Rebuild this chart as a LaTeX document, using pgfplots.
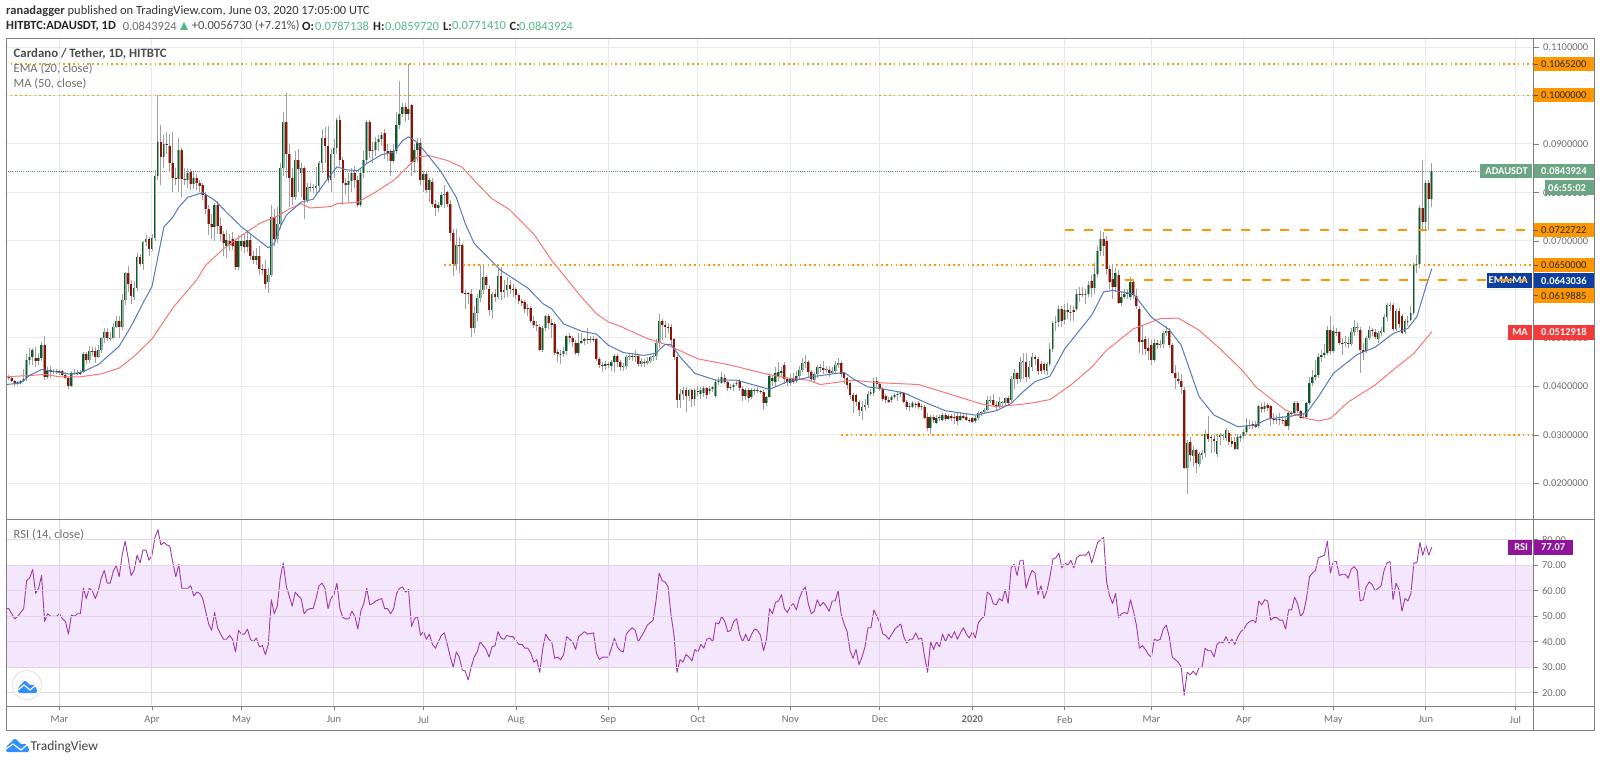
\documentclass[border=0pt]{standalone}
\usepackage{fontspec}
\usepackage{pgfplots}
\usepackage{pgfplotstable}
\pgfplotsset{compat=1.18}
\setmainfont{Carlito}
\definecolor{lvl}{HTML}{FF9800}
\definecolor{gridc}{HTML}{E9E9E9}
\definecolor{txt}{HTML}{6E6E6E}
\definecolor{frm}{HTML}{7F7F7F}
\definecolor{upd}{HTML}{0E5A2A}
\definecolor{upl}{HTML}{8FB09D}
\definecolor{dnd}{HTML}{8F1408}
\definecolor{dnl}{HTML}{BFA09A}
\definecolor{wick}{HTML}{A0A0A0}
\definecolor{tagg}{HTML}{6BA583}
\definecolor{tagb}{HTML}{0D3F9F}
\definecolor{tagr}{HTML}{F23A3A}
\definecolor{tagp}{HTML}{8E1599}
\definecolor{band}{HTML}{F4E7FD}
\definecolor{teal}{HTML}{53B987}
\newcommand{\tv}{\fontsize{12.5}{14}\selectfont}
\newcommand{\tk}{\fontsize{10.5}{12}\selectfont}
% day number (0 = 1 Mar 2019), open high low close in 1/10000 USDT
\pgfplotstableread{
d o h l c
-18 429 430 416 417
-17 419 423 413 417
-16 417 419 409 411
-15 412 413 402 405
-14 407 412 404 409
-13 408 414 406 412
-12 411 437 409 416
-11 418 466 412 455
-10 455 479 445 461
-9 461 480 445 476
-8 459 481 440 452
-7 452 470 445 459
-6 459 491 452 486
-5 486 505 414 420
-4 420 441 415 435
-3 435 443 418 430
-2 430 436 425 431
-1 431 437 426 430
0 430 435 424 431
1 431 434 419 424
2 424 430 415 418
3 418 420 394 402
4 402 432 398 428
5 428 436 424 427
6 427 433 423 426
7 426 434 424 429
8 429 472 427 468
9 468 472 447 454
10 454 484 448 474
11 474 481 462 473
12 473 482 449 461
13 461 485 458 476
14 476 503 470 500
15 500 520 490 512
16 512 520 494 500
17 500 512 493 501
18 501 530 498 522
19 522 545 520 534
20 534 546 500 522
21 522 590 516 579
22 579 636 568 633
23 633 648 595 611
24 611 620 570 587
25 584 618 578 604
26 604 675 596 668
27 668 674 648 652
28 652 700 640 697
29 697 712 690 704
30 704 708 670 684
31 684 715 680 706
32 706 846 700 835
33 835 1002 825 905
34 905 940 815 873
35 873 918 850 900
36 900 925 880 898
37 896 920 845 860
38 860 925 800 829
39 829 850 815 827
40 827 912 800 887
41 887 892 790 827
42 827 850 815 826
43 826 850 810 840
44 842 848 805 818
45 818 842 808 830
46 829 838 805 820
47 820 826 802 813
48 815 820 785 795
49 795 800 755 765
50 765 775 712 735
51 735 755 705 729
52 729 778 700 775
53 775 782 715 730
54 730 750 700 714
55 714 720 670 695
56 690 722 665 702
57 700 715 680 692
58 705 718 682 690
59 700 705 640 647
60 647 712 640 700
61 690 714 680 700
62 700 714 675 688
63 688 722 678 702
64 702 712 660 670
65 670 680 652 660
66 660 685 650 670
67 670 690 630 643
68 643 652 630 640
69 643 660 600 612
70 615 645 592 630
71 630 775 625 750
72 750 765 690 705
73 705 770 695 735
74 735 860 725 850
75 850 965 835 945
76 945 1005 830 880
77 880 900 770 830
78 830 850 775 790
79 790 885 785 868
80 868 890 800 848
81 840 860 790 850
82 850 855 745 785
83 785 820 778 812
84 812 820 800 810
85 810 818 798 811
86 810 852 795 814
87 814 865 800 860
88 860 930 840 912
89 912 935 860 895
90 895 938 820 825
91 825 890 800 880
92 880 910 830 892
93 892 953 880 950
94 950 960 855 866
95 866 873 775 819
96 819 830 795 815
97 815 840 780 824
98 824 850 800 840
99 840 855 810 825
100 825 835 770 775
101 775 850 770 840
102 840 885 830 868
103 868 950 860 945
104 945 950 872 885
105 885 905 860 887
106 887 915 875 905
107 905 918 885 910
108 910 925 895 918
109 922 930 870 885
110 885 900 865 882
111 885 890 835 865
112 865 900 860 885
113 885 965 880 940
114 940 1030 930 962
115 962 985 955 977
116 977 985 945 962
117 962 1065 950 972
118 980 982 835 863
119 863 900 840 888
120 888 912 862 902
121 902 912 815 825
122 825 845 800 838
123 838 842 798 805
124 805 830 780 825
125 821 830 770 777
126 777 785 752 768
127 768 780 760 775
128 775 800 770 795
129 795 815 768 796
130 800 803 770 777
131 777 785 700 717
132 717 725 628 653
133 653 725 640 692
134 692 708 635 690
135 692 695 590 592
136 592 598 560 590
137 592 594 570 590
138 590 600 502 520
139 520 565 510 551
140 551 590 535 582
141 582 650 575 598
142 598 648 590 625
143 625 630 600 610
144 600 610 545 558
145 558 595 540 590
146 590 600 575 585
147 585 645 580 628
148 628 646 578 595
149 595 620 582 598
150 598 625 585 610
151 610 620 590 602
152 602 612 585 600
153 600 605 580 588
154 588 590 570 577
155 577 580 565 572
156 575 578 552 560
157 562 570 545 560
158 562 565 530 535
159 535 545 520 527
160 527 535 515 524
161 522 528 474 476
162 476 525 472 521
163 521 548 515 545
164 545 550 518 530
165 530 540 500 526
166 528 532 465 469
167 472 478 450 466
168 466 475 447 468
169 468 482 460 473
170 473 506 465 504
171 505 510 490 500
172 500 505 482 492
173 490 495 465 470
174 470 510 462 490
175 490 510 488 494
176 494 500 485 497
177 497 520 488 495
178 497 505 490 498
179 498 505 492 497
180 498 500 452 457
181 457 460 438 445
182 444 450 430 442
183 443 452 435 447
184 447 450 438 445
185 442 455 432 450
186 450 468 430 462
187 462 468 440 450
188 450 455 432 440
189 440 448 432 442
190 442 465 436 460
191 460 470 455 462
192 462 470 452 461
193 462 476 450 463
194 462 468 440 446
195 446 458 440 452
196 450 456 440 448
197 448 460 445 452
198 452 462 448 460
199 460 468 452 463
200 463 498 455 490
201 490 550 480 536
202 536 540 495 527
203 527 535 500 522
204 522 530 510 520
205 522 528 485 495
206 497 500 455 461
207 461 465 355 372
208 372 395 355 385
209 385 398 372 392
210 392 398 347 380
211 380 395 370 392
212 392 395 358 374
213 374 396 360 392
214 390 400 378 388
215 385 398 375 392
216 386 400 378 396
217 396 398 374 382
218 390 400 384 395
219 395 402 388 398
220 380 415 376 410
221 410 420 403 412
222 408 430 405 419
223 418 425 405 410
224 410 412 390 396
225 396 405 392 398
226 398 408 390 404
227 405 412 400 408
228 412 415 390 396
229 394 400 370 380
230 380 396 372 392
231 392 396 368 376
232 378 396 374 392
233 390 396 382 392
234 392 398 386 393
235 390 393 384 388
236 388 392 352 365
237 365 380 360 378
238 378 428 376 422
239 412 422 400 418
240 410 440 400 428
241 420 450 412 430
242 428 440 420 432
243 444 450 405 415
244 415 420 400 410
245 408 425 402 415
246 418 428 405 410
247 412 432 408 422
248 422 442 415 435
249 435 458 430 448
250 448 465 438 450
251 450 455 418 430
252 430 435 410 415
253 414 430 410 426
254 426 445 418 440
255 440 446 430 438
256 438 452 425 434
257 434 442 428 437
258 435 442 420 428
259 428 440 425 432
260 432 452 428 445
261 445 458 438 448
262 448 452 420 426
263 428 430 405 418
264 418 420 395 404
265 407 410 375 382
266 382 386 345 370
267 382 385 360 368
268 368 372 340 352
269 350 370 330 358
270 358 375 350 362
271 362 390 355 385
272 385 395 380 388
273 386 418 380 412
274 412 420 398 405
275 405 410 390 395
276 395 398 370 375
277 380 385 365 372
278 372 378 365 368
279 372 382 365 378
280 378 386 375 382
281 382 388 370 384
282 384 390 378 386
283 386 388 365 368
284 368 372 352 358
285 358 365 350 359
286 358 370 355 365
287 364 368 356 362
288 366 370 354 358
289 358 364 352 360
290 358 362 332 335
291 338 345 308 314
292 314 342 302 338
293 338 342 325 330
294 325 342 322 336
295 336 342 328 338
296 330 345 328 342
297 342 345 328 333
298 333 344 330 340
299 340 344 328 336
300 338 345 322 335
301 340 345 320 328
302 330 345 328 340
303 340 344 332 336
304 338 344 328 330
305 330 335 325 328
306 334 338 324 327
307 328 340 324 336
308 336 350 330 345
309 345 350 340 347
310 347 355 344 352
311 352 380 350 372
312 372 380 365 373
313 372 385 358 362
314 362 370 350 360
315 358 378 355 369
316 365 370 360 367
317 366 378 362 376
318 376 380 362 365
319 372 422 368 416
320 416 436 395 428
321 428 430 405 415
322 415 460 410 450
323 450 470 415 452
324 450 470 410 420
325 420 452 415 440
326 440 470 432 460
327 460 465 445 456
328 456 460 424 432
329 446 452 425 432
330 446 450 426 433
331 431 450 424 446
332 446 490 442 478
333 478 535 472 530
334 530 545 515 533
335 533 568 522 560
336 559 565 522 536
337 537 570 528 557
338 557 572 540 553
339 553 568 535 554
340 558 565 535 553
341 560 600 555 591
342 591 605 575 590
343 590 605 584 591
344 590 600 570 591
345 591 618 585 610
346 618 630 585 603
347 603 655 590 632
348 632 690 625 680
349 680 720 670 705
350 705 718 670 690
351 700 710 630 642
352 642 650 600 615
353 622 650 580 605
354 605 645 595 635
355 629 640 570 572
356 572 595 565 585
357 585 600 580 590
358 590 600 580 593
359 585 625 578 615
360 615 622 580 588
361 587 600 560 565
362 560 565 470 492
363 492 525 465 495
364 498 505 465 478
365 480 500 455 473
366 485 495 445 454
367 454 498 450 490
368 490 495 478 486
369 486 496 480 488
370 488 515 480 510
371 510 525 505 515
372 515 520 480 485
373 485 490 425 428
374 428 445 395 418
375 416 430 405 412
376 412 425 385 398
377 392 398 230 232
378 232 290 178 284
379 286 295 245 259
380 257 278 235 270
381 270 272 222 242
382 240 265 235 260
383 258 270 248 262
384 262 310 255 303
385 303 340 285 292
386 295 300 262 293
387 292 300 265 288
388 260 303 255 287
389 295 305 280 300
390 298 303 290 300
391 293 315 288 310
392 305 310 280 285
393 288 296 275 282
394 285 295 270 272
395 272 302 270 295
396 293 302 285 297
397 297 312 292 306
398 306 335 302 318
399 318 330 312 320
400 322 328 312 318
401 320 328 315 316
402 318 362 315 360
403 358 365 345 353
404 353 368 348 360
405 362 365 350 355
406 360 362 318 332
407 332 345 322 331
408 331 342 322 333
409 331 345 320 333
410 331 340 322 330
411 330 338 316 318
412 318 350 310 345
413 344 350 338 346
414 346 370 340 365
415 365 370 345 350
416 350 352 332 335
417 336 345 332 338
418 338 368 335 365
419 365 420 362 408
420 408 435 400 420
421 420 455 412 423
422 423 470 418 461
423 461 475 450 465
424 465 488 458 470
425 470 525 465 516
426 516 545 465 473
427 473 525 470 515
428 512 520 505 510
429 512 515 485 490
430 490 500 465 488
431 490 505 482 492
432 490 502 480 488
433 488 520 484 513
434 513 538 505 522
435 520 530 512 522
436 516 522 427 475
437 475 490 455 472
438 473 505 470 500
439 500 525 495 517
440 517 520 505 514
441 512 518 498 503
442 498 515 490 510
443 510 522 505 514
444 512 550 510 543
445 543 573 535 567
446 567 575 555 569
447 567 572 515 519
448 519 560 515 556
449 556 562 520 528
450 546 550 508 510
451 512 540 508 536
452 533 545 525 535
453 537 565 535 551
454 551 655 548 650
455 650 672 635 652
456 652 775 645 769
457 769 867 723 740
458 740 825 725 819
459 819 826 722 787
460 787 860 771 844
}\candles
\begin{document}
\begin{tikzpicture}[x=1pt,y=1pt]
\path[use as bounding box] (0,0) rectangle (1600,763);
\begin{axis}[
  at={(6pt,243pt)},anchor=south west,scale only axis,width=1527.5pt,height=481pt,
  xmin=-17.93,xmax=494.1,ymin=124.7,ymax=1116.5,
  axis line style={draw=none},
  xtick={0,31,61,92,122,153,184,214,245,275,306,337,366,397,427,458,488},
  xticklabel=\empty,xtick style={draw=none},
  ytick={200,300,400,500,600,700,800,900,1000,1100},
  yticklabels={0.0200000,0.0300000,0.0400000,0.0500000,0.0600000,0.0700000,0.0800000,0.0900000,0.1000000,0.1100000},
  ytick pos=right,yticklabel pos=right,tick align=outside,major tick length=5pt,
  ytick style={color=frm,line width=.8pt},
  yticklabel style={font=\tk,text=txt,xshift=1pt},
  grid=major,grid style={color=gridc,line width=1pt}]
\addplot[color=lvl,line width=1.6pt,dash pattern=on 1.6pt off 3.2pt,forget plot] coordinates {(-18,1065.2)(494,1065.2)};
\addplot[color=lvl,line width=1.6pt,dash pattern=on 1.6pt off 3.2pt,forget plot] coordinates {(-18,1000)(494,1000)};
\addplot[color=tagg!85!black,line width=.7pt,dash pattern=on 1pt off 1.2pt,forget plot] coordinates {(-18,843.9)(494,843.9)};
\addplot[color=lvl,line width=1.6pt,dash pattern=on 1.6pt off 3.2pt,forget plot] coordinates {(129,650)(494,650)};
\addplot[color=lvl,line width=1.6pt,dash pattern=on 1.6pt off 3.2pt,forget plot] coordinates {(262,300)(494,300)};
% wicks
\addplot[draw=none,mark=none,forget plot,error bars/.cd,y dir=both,y explicit,error mark=none,
  error bar style={color=wick,line width=.9pt}]
  table[x=d,y=c,y error plus expr=\thisrow{h}-\thisrow{c},y error minus expr=\thisrow{c}-\thisrow{l}] {\candles};
% bodies
\addplot[draw=none,mark=none,forget plot,error bars/.cd,y dir=minus,y explicit,error mark=none,
  error bar style={color=upl,line width=2.8pt}]
  table[x expr={\thisrow{c}>=\thisrow{o} ? \thisrow{d} : nan},y=c,y error minus expr=\thisrow{c}-\thisrow{o}] {\candles};
\addplot[draw=none,mark=none,forget plot,error bars/.cd,y dir=minus,y explicit,error mark=none,
  error bar style={color=upd,line width=1.3pt,xshift=-.5pt}]
  table[x expr={\thisrow{c}>=\thisrow{o} ? \thisrow{d} : nan},y=c,y error minus expr=\thisrow{c}-\thisrow{o}] {\candles};
\addplot[draw=none,mark=none,forget plot,error bars/.cd,y dir=minus,y explicit,error mark=none,
  error bar style={color=dnl,line width=2.8pt}]
  table[x expr={\thisrow{c}<\thisrow{o} ? \thisrow{d} : nan},y=o,y error minus expr=\thisrow{o}-\thisrow{c}] {\candles};
\addplot[draw=none,mark=none,forget plot,error bars/.cd,y dir=minus,y explicit,error mark=none,
  error bar style={color=dnd,line width=2pt}]
  table[x expr={\thisrow{c}<\thisrow{o} ? \thisrow{d} : nan},y=o,y error minus expr=\thisrow{o}-\thisrow{c}] {\candles};
% MA 50
\addplot[color=tagr!70!white,line width=1pt,line join=round,forget plot] coordinates {
(-18,420)(-9,423)(-5,425)(0,420)(7,420)(14,426)(20,438)(25,462)(31,498)(38,562)(46,620)(49,650)(55,684)(60,707)(67,736)(73,751)(77,766)(81,777)(84,768)(91,771)(93,777)(100,780)(106,801)(112,825)(116,849)(120,873)(124,876)(130,866)(135,852)(139,825)(145,787)(151,764)(159,714)(165,660)(170,622)(175,584)(180,550)(184,533)(188,524)(197,499)(204,485)(214,457)(225,444)(236,427)(243,418)(251,413)(255,404)(266,413)(274,408)(288,404)(297,387)(309,364)(314,358)(325,365)(332,373)(339,403)(346,440)(351,475)(360,519)(369,540)(375,541)(382,516)(389,478)(397,430)(401,399)(411,351)(418,334)(422,329)(426,334)(432,368)(441,403)(447,434)(454,468)(460,513)};
% EMA 20
\addplot[color=tagb!70!white,line width=1pt,line join=round,forget plot] coordinates {
(-18,404)(-13,407)(-10,423)(-6,435)(0,429)(4,425)(8,431)(13,445)(20,483)(24,524)(28,572)(31,606)(35,729)(38,749)(40,770)(43,790)(48,800)(52,784)(57,753)(61,729)(66,705)(70,686)(72,695)(74,729)(76,753)(81,780)(85,786)(89,821)(93,853)(96,847)(100,845)(103,860)(108,878)(112,883)(115,907)(117,915)(120,903)(124,873)(128,842)(133,790)(136,736)(139,695)(143,670)(148,639)(157,603)(162,571)(165,560)(169,529)(175,514)(180,508)(184,485)(189,470)(196,464)(200,469)(203,487)(205,487)(208,461)(213,427)(220,413)(227,413)(234,401)(238,394)(244,410)(252,420)(263,429)(266,416)(271,399)(275,396)(283,387)(291,365)(297,350)(307,341)(314,350)(319,365)(323,389)(327,410)(332,421)(337,478)(346,547)(350,595)(353,598)(360,591)(366,543)(372,517)(376,485)(382,379)(387,341)(395,317)(401,321)(405,333)(413,339)(418,345)(422,379)(427,427)(435,466)(441,481)(447,509)(452,520)(455,544)(458,605)(460,643)};
% drawn levels
\addplot[color=lvl,line width=1.6pt,dash pattern=on 9pt off 10.6pt,forget plot] coordinates {(337,722.7)(491.7,722.7)};
\addplot[color=lvl,line width=1.6pt,dash pattern=on 9pt off 10.6pt,forget plot] coordinates {(357,619.9)(491.7,619.9)};
\end{axis}
\begin{axis}[
  at={(6pt,57pt)},anchor=south west,scale only axis,width=1527.5pt,height=186pt,
  xmin=-17.93,xmax=494.1,ymin=14.8,ymax=87.8,
  axis line style={draw=none},axis on top,
  xtick={0,31,61,92,122,153,184,214,245,275,306,337,366,397,427,458,488},
  xticklabels={Mar,Apr,May,Jun,Jul,Aug,Sep,Oct,Nov,Dec,\textbf{2020},Feb,Mar,Apr,May,Jun,Jul},
  ytick={20,30,40,50,60,70,80},
  yticklabels={20.00,30.00,40.00,50.00,60.00,70.00,80.00},
  xtick pos=bottom,ytick pos=right,yticklabel pos=right,tick align=outside,major tick length=4pt,
  tick style={color=frm,line width=.8pt},
  yticklabel style={font=\tk,text=txt,xshift=1pt},
  xticklabel style={font=\tk,text=txt,yshift=-2.5pt},
  grid=major,grid style={color=gridc!92!violet,line width=1pt}]
\addplot[fill=band,draw=none,forget plot] coordinates {(-18,30)(495,30)(495,70)(-18,70)} \closedcycle;
\addplot[color=black!35,line width=.7pt,dash pattern=on 4pt off 3pt,forget plot] coordinates {(-18,70)(495,70)};
\addplot[color=black!35,line width=.7pt,dash pattern=on 4pt off 3pt,forget plot] coordinates {(-18,30)(495,30)};
\addplot[color=tagp!85!white,line width=.9pt,line join=round,forget plot] coordinates {
(-18,53)(-17,53)(-15,49)(-14,50)(-12,53)(-11,64)(-10,65)(-9,68.4)(-8,59)(-7,61)(-6,66)(-5,48)(-4,51)(-3,50)(-1,50)(0,51)(1,49)(2,48)(3,43)(4,50.5)(5,50)(6,51)(7,51)(8,61)(9,57)(10,61)(11,60)(12,57)(13,60)(14,65)(15,68)(16,63)(17,63)(18,67.5)(19,70)(20,65.5)(21,74)(22,79.5)(23,73)(24,66)(25,68)(26,74)(27,71)(28,76)(29,76)(30,72)(31,74)(32,81)(33,84)(34,78)
(35,79)(36,78)(37,77.5)(38,71)(39,65.5)(40,70.5)(41,61)(43,61)(44,62)(45,58)(46,59.5)(47,59)(48,57)(49,52)(50,47)(51,44.5)(52,51.5)(53,45.5)(54,43)(55,41)(56,41)(57,42.5)(58,41)(59,36)(60,44.5)(61,43)(62,43)(63,45)(64,41)(65,40)(66,41.5)(67,38)(68,38.5)(69,35)(70,39)(71,56.5)(72,51)(73,54)(74,65)(75,71)(76,62)(77,58)(78,54)(79,59.5)(80,58)(81,57)(82,51)(83,52.5)(84,53)(85,53)(86,57)(87,62)(88,63)(89,61)(90,53)(91,57)(92,58.5)(93,63)(94,53)(95,49.5)(96,49)(97,49)(98,52)(99,50)
(100,45)(101,52)(102,55)(103,61)(104,54.5)(105,55)(106,56)(107,56.5)(108,57)(109,53)(110,53)(111,51)(112,53)(113,59)(114,61)(115,61.5)(116,59.5)(117,60.5)(118,46)(119,49)(120,50)(121,42.5)(122,44)(123,41)(124,43)(125,39)(126,37.5)(127,40)(128,42.5)(129,43.5)(130,39)(131,34)(132,30)(133,36)(134,34)(135,29)(136,28.5)(137,25)(138,30)(139,34)(140,36)(141,40)(142,38.5)(143,37)(144,34)(145,38)(146,38.5)(147,44)(148,41.5)(149,41)(150,42.5)(151,42)(152,42)(153,40.5)(154,39)(155,39)(156,37.5)(157,37.5)
(158,35.5)(159,32)(160,33)(161,28)(162,37.5)(163,43)(164,41)(165,40)(166,33.5)(167,34)(168,33)(169,35)(170,42)(171,41)(172,40)(173,37)(174,42)(175,43)(176,44)(177,43)(179,43.5)(180,35.5)(181,33)(182,34)(183,34)(184,34)(185,37.5)(186,41.5)(187,38)(188,36.5)(189,36)(190,43)(191,44.5)(192,45.5)(193,44.5)(194,40)(195,42)(196,44)(197,46.5)(198,47.5)(199,48.5)(200,56.5)(201,67)(202,64)(203,63.5)(204,61.5)(205,50.5)(206,42.5)(207,28)(208,33)(209,32)(210,35)(211,34)(212,32.5)(213,37)(214,36)(215,39)(216,37.5)(217,41)(218,41.5)(219,40)(220,47.5)(221,47)(222,50)(223,48)(224,44)(225,44.5)(226,48)(227,49)(228,43)(229,40)(230,43)(231,40)(232,43)(233,45)(234,44.5)(235,42.5)(236,36.5)(237,41)(238,53)(239,51)(240,55.5)(241,56)(242,58.5)(243,53)(244,51.5)(245,54)(246,55)(247,52.5)(248,57)(249,60)(250,61.5)(251,55)(252,51)(253,52)(254,56.5)(255,54)(256,55.5)(257,54)(258,52)(259,56)(260,56)(261,60)(262,51)(263,47)(264,44)(265,36.5)(266,33.5)(267,37)(268,31)(269,34)(270,38)(271,45.5)(272,45.5)(273,52.5)(274,50)(275,47.5)(276,43)(277,42.5)(278,41)(279,43)(280,45)(281,46)(282,47)(283,42)(284,39.5)(285,41)(286,41)(287,43.5)(288,41)(289,41.5)(290,34)(291,28)(292,40)(293,37)(294,40)(295,38)(296,43)(297,40)(298,43)(299,41.5)(300,44)(301,41)(302,43.5)(303,45.5)(304,43)(305,41.5)(306,44)(307,41.5)(308,47.5)(309,49)(310,50)(311,59.5)(312,58.5)(313,55)(314,54.5)(315,57)(316,56)(317,60.5)(318,55)(319,69)(320,70.5)(321,66)(322,72)(323,72)(324,61)(325,65)(326,68)(327,67)(328,58.5)(329,62)(330,57)(331,60)(332,65.5)(333,72.5)(334,73)
(335,74.7)(336,69)(337,71)(338,70)(339,72)(340,69)(341,73)(342,74)(344,74)(345,75.5)(346,71)(348,79)(349,80)(350,81)(351,63.5)(352,58)(353,55)(354,59)(355,49.5)(356,51)(357,51.5)(358,51)(359,56.5)(360,52)(361,46.5)(362,37.5)(363,38.5)(364,37)(365,35)(366,34)(367,41)(368,40.5)(369,41)(370,45)(371,46.5)(372,42)(373,34)(374,33)(375,32)(376,30)(377,19)(378,28)(379,27)(380,28.5)(381,27)(382,30)(383,30)(384,37.5)(385,36.5)(386,36.5)(387,34)(388,39)(389,40)(390,39.5)(391,42)(392,39.5)(393,41)(394,39)(395,42)(396,44)(397,45)(398,47)(399,48)(400,48.5)(401,47.5)(402,56)(403,54.5)(404,56.5)(405,56)(406,48.5)(407,49.5)(408,49.5)(409,48.5)(410,48.5)(411,45)(412,52.5)(413,52.5)(414,57.5)(415,55)(416,50)(417,51.5)(418,57)(419,65.5)(420,67)(421,68)(422,73)(423,73.5)(424,74)(425,79.5)(426,67)(427,71.5)(428,71.5)(429,66)(430,66.5)(431,66.5)(432,65)(433,68.5)(434,69.5)(435,68)(436,56)(437,56.5)(438,61.5)(439,63.5)(440,62.5)(441,60)(442,61)(443,62)(444,68)(445,71)(446,71.5)(447,56.5)(448,63)(449,60.5)(450,52)(451,57)(452,56)(453,59)(454,71)(455,71)(456,79)(457,74)(458,78)(459,74)(460,77.07)};
\end{axis}
\begin{scope}[shift={(0,763)},x=1pt,y=-1pt,font=\tv]
% frame
\draw[frm,line width=1pt] (6,39) rectangle (1594,730);
\draw[frm,line width=1pt] (1533.5,39) -- (1533.5,730);
\draw[frm,line width=1pt] (6,520) -- (1594,520);
\draw[frm,line width=1pt] (6,706) -- (1594,706);
% header
\node[anchor=west,inner sep=0pt,text=black!80] at (6,11) {\textbf{ranadagger} published on TradingView.com, June 03, 2020 17:05:00 UTC};
\node[anchor=west,inner sep=0pt,text=black!85] at (6,26) {\textbf{HITBTC:ADAUSDT, 1D}};
\node[anchor=west,inner sep=0pt,text=txt] at (122.7,26) {0.0843924};
\fill[teal] (180,30) -- (184,22) -- (188,30) -- cycle;
\node[anchor=west,inner sep=0pt,text=black!70] at (191.7,26) {+0.0056730 (+7.21\%)};
\node[anchor=west,inner sep=0pt,text=black!85] at (302,26) {\textbf{O:}};
\node[anchor=west,inner sep=0pt,text=teal] at (315,26) {0.0787138};
\node[anchor=west,inner sep=0pt,text=black!85] at (373,26) {\textbf{H:}};
\node[anchor=west,inner sep=0pt,text=teal] at (385,26) {0.0859720};
\node[anchor=west,inner sep=0pt,text=black!85] at (443,26) {\textbf{L:}};
\node[anchor=west,inner sep=0pt,text=teal] at (452,26) {0.0771410};
\node[anchor=west,inner sep=0pt,text=black!85] at (509.5,26) {\textbf{C:}};
\node[anchor=west,inner sep=0pt,text=teal] at (519,26) {0.0843924};
% pane legends
\node[anchor=west,inner sep=0pt,text=black!70] at (13.5,54) {\fontsize{12.8}{14}\selectfont\textbf{Cardano / Tether, 1D, HITBTC}};
\node[anchor=west,inner sep=0pt,text=txt] at (13.5,69) {EMA (20, close)};
\node[anchor=west,inner sep=0pt,text=txt] at (13.5,84) {MA (50, close)};
\node[anchor=west,inner sep=0pt,text=txt] at (13.5,535) {RSI (14, close)};
% price tags
\foreach \yt/\lab in {56.7/0.1065200,87.7/0.1000000,222.7/0.0722722,257.7/0.0650000,288.3/0.0619885}{
  \fill[lvl] (1534,\yt) rectangle (1594,\yt+14.6);
  \draw[black!70,line width=.8pt] (1534,\yt+7.3) -- (1538,\yt+7.3);
  \node[anchor=west,inner sep=0pt,text=black!85,font=\tk] at (1541,\yt+7.3) {\lab};
}
\fill[tagg] (1480,164) rectangle (1532,178.5);
\fill[tagg] (1534,164) rectangle (1594,178.5);
\node[anchor=east,inner sep=0pt,text=white,font=\tk] at (1528,171.2) {\textbf{ADAUSDT}};
\node[anchor=west,inner sep=0pt,text=white,font=\tk] at (1541,171.2) {\textbf{0.0843924}};
\fill[tagg] (1545,180) rectangle (1594,195);
\node[anchor=west,inner sep=0pt,text=white,font=\tk] at (1548,187.5) {\textbf{06:55:02}};
\fill[tagb] (1486.7,273.3) rectangle (1532,287.7);
\fill[tagb] (1534,273.3) rectangle (1594,287.7);
\node[anchor=east,inner sep=0pt,text=white,font=\tk] at (1528,280.5) {\textbf{EMA:MA}};
\node[anchor=west,inner sep=0pt,text=white,font=\tk] at (1541,280.5) {\textbf{0.0643036}};
\draw[lvl,line width=1.6pt] (1498,279.9) -- (1513,279.9) (1520,279.9) -- (1527,279.9);
\fill[tagr] (1508,325) rectangle (1532,339.7);
\fill[tagr] (1534,325) rectangle (1594,339.7);
\node[anchor=east,inner sep=0pt,text=white,font=\tk] at (1528,332.4) {\textbf{MA}};
\node[anchor=west,inner sep=0pt,text=white,font=\tk] at (1541,332.4) {\textbf{0.0512918}};
\fill[tagp] (1507.7,540) rectangle (1532,555);
\fill[tagp] (1534,540) rectangle (1573,555);
\node[anchor=east,inner sep=0pt,text=white,font=\tk] at (1528,547.5) {\textbf{RSI}};
\node[anchor=west,inner sep=0pt,text=white,font=\tk] at (1541,547.5) {\textbf{77.07}};
% TradingView logos
\fill[white] (27,685) circle (14.5);
\draw[black!12,line width=.8pt] (27,685) circle (14.5);
\fill[blue!55!cyan!80!white,rounded corners=1.5pt] (18,693) -- (18,688) -- (25,680) -- (31,686) -- (33,684) -- (37,689) -- (37,693) -- cycle;
\draw[white,line width=1.1pt] (18,690) -- (24,685) -- (30,690) -- (36,685);
\fill[blue!55!cyan!80!white,rounded corners=1.5pt] (6,752) -- (6,747) -- (15,738) -- (22,745) -- (25,743) -- (29,748) -- (29,752) -- cycle;
\draw[white,line width=1.1pt] (6,749) -- (13,744) -- (21,750) -- (28,744);
\node[anchor=west,inner sep=0pt,text=black!75] at (30.5,746.5) {\fontsize{13.5}{15}\selectfont TradingView};
\end{scope}
\end{tikzpicture}
\end{document}
